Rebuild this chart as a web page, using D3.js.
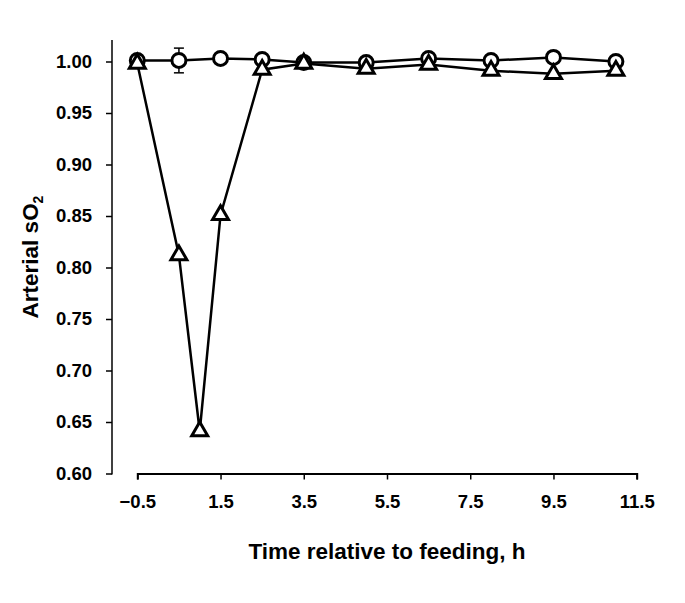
<!DOCTYPE html>
<html>
<head>
<meta charset="utf-8">
<script src="https://cdn.jsdelivr.net/npm/d3@7.9.0/dist/d3.min.js"></script>
<style>
  body { margin: 0; background: #fff; }
  svg text { font-family: "Liberation Sans", Arial, sans-serif; font-weight: bold; fill: #000; }
</style>
</head>
<body>
<svg id="chart" width="685" height="603"></svg>
<script>
// circles (control) and triangles (treated)
const circleTime = [-0.5, 0.5, 1.5, 2.5, 3.5, 5, 6.5, 8, 9.5, 11];
const circleSO2 = [1.001, 1.001, 1.003, 1.002, 0.999, 0.999, 1.003, 1.001, 1.004, 1.0];
const circleErr = [0, 0.012, 0, 0, 0.004, 0, 0, 0, 0, 0];

const triTime = [-0.5, 0.5, 1, 1.5, 2.5, 3.5, 5, 6.5, 8, 9.5, 11];
const triSO2 = [0.998, 0.812, 0.641, 0.851, 0.992, 0.998, 0.993, 0.997, 0.991, 0.988, 0.991];

const xTicks = [-0.5, 1.5, 3.5, 5.5, 7.5, 9.5, 11.5];
const yTicks = [0.60, 0.65, 0.70, 0.75, 0.80, 0.85, 0.90, 0.95, 1.00];

const svg = d3.select("#chart");

const x = d3.scaleLinear().domain([-0.5, 11.5]).range([137.3, 636.7]);
const y = d3.scaleLinear().domain([0.6, 1.0]).range([473.5, 61.5]);

// y axis (runs a bit above 1.00)
const yAxisG = svg.append("g").attr("transform", "translate(112,0)");
yAxisG.append("line")
    .attr("x1", 0).attr("x2", 0)
    .attr("y1", 40).attr("y2", y(0.6) + 1)
    .attr("stroke", "#000").attr("stroke-width", 2);
yAxisG.call(d3.axisLeft(y).tickValues(yTicks).tickFormat(d3.format(".2f")).tickSizeOuter(0).tickSize(6).tickPadding(14))
    .call(g => g.select(".domain").remove())
    .call(g => g.selectAll("line").attr("stroke", "#000").attr("stroke-width", 1.5))
    .call(g => g.selectAll("text").attr("font-size", 18.5).attr("font-family", "Liberation Sans, Arial, sans-serif").attr("font-weight", "bold"));

// x axis, detached from the y axis
const xAxisG = svg.append("g").attr("transform", `translate(0,${y(0.6)})`);
xAxisG.call(d3.axisBottom(x).tickValues(xTicks).tickFormat(d3.format(".1f")).tickSizeOuter(0).tickSize(6).tickPadding(15))
    .call(g => g.select(".domain").attr("stroke", "#000").attr("stroke-width", 2))
    .call(g => g.selectAll("line").attr("stroke", "#000").attr("stroke-width", 1.5))
    .call(g => g.selectAll("text").attr("font-size", 18.5).attr("font-family", "Liberation Sans, Arial, sans-serif").attr("font-weight", "bold"));

// axis titles
svg.append("text")
    .attr("x", (x(-0.5) + x(11.5)) / 2)
    .attr("y", 559)
    .attr("text-anchor", "middle")
    .attr("font-size", 22.5)
    .text("Time relative to feeding, h");

const yTitle = svg.append("text")
    .attr("transform", `translate(38,257) rotate(-90)`)
    .attr("text-anchor", "middle")
    .attr("font-size", 22.5);
yTitle.append("tspan").text("Arterial sO");
yTitle.append("tspan").attr("font-size", 14).attr("dy", 5).text("2");

const line = d3.line().x(d => x(d[0])).y(d => y(d[1]));

// circle series
const circleData = circleTime.map((t, i) => [t, circleSO2[i], circleErr[i]]);
svg.append("path")
    .datum(circleData)
    .attr("d", line)
    .attr("fill", "none")
    .attr("stroke", "#000")
    .attr("stroke-width", 2.5);

const errG = svg.append("g").attr("stroke", "#000").attr("stroke-width", 1.5);
circleData.filter(d => d[2] > 0).forEach(d => {
    const cx = x(d[0]);
    errG.append("line").attr("x1", cx).attr("x2", cx).attr("y1", y(d[1] - d[2])).attr("y2", y(d[1] + d[2]));
    [d[1] - d[2], d[1] + d[2]].forEach(v => {
        errG.append("line").attr("x1", cx - 5).attr("x2", cx + 5).attr("y1", y(v)).attr("y2", y(v));
    });
});

svg.append("g").selectAll("circle")
    .data(circleData)
    .join("circle")
    .attr("cx", d => x(d[0]))
    .attr("cy", d => y(d[1]))
    .attr("r", 7)
    .attr("fill", "#fff")
    .attr("stroke", "#000")
    .attr("stroke-width", 3);

// triangle series
const triData = triTime.map((t, i) => [t, triSO2[i]]);
svg.append("path")
    .datum(triData)
    .attr("d", line)
    .attr("fill", "none")
    .attr("stroke", "#000")
    .attr("stroke-width", 2.5);

const tri = d3.symbol().type(d3.symbolTriangle).size(110);
svg.append("g").selectAll("path")
    .data(triData)
    .join("path")
    .attr("d", tri)
    .attr("transform", d => `translate(${x(d[0])},${y(d[1])})`)
    .attr("fill", "#fff")
    .attr("stroke", "#000")
    .attr("stroke-width", 3)
    .attr("stroke-linejoin", "miter");
</script>
</body>
</html>
